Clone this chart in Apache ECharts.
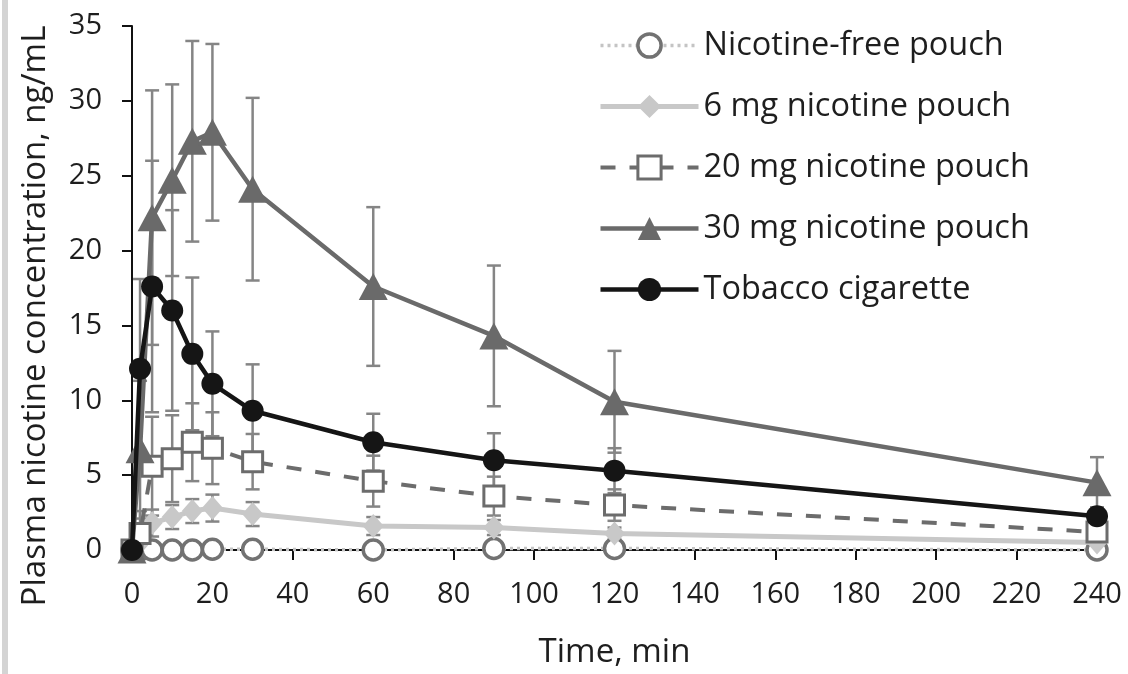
<!DOCTYPE html>
<html>
<head>
<meta charset="utf-8">
<script src="https://cdn.jsdelivr.net/npm/echarts@6/dist/echarts.min.js"></script>
<style>
html,body{margin:0;padding:0;background:#fff;}
#chart{width:1128px;height:674px;}
</style>
</head>
<body>
<div id="chart"></div>
<script>
// ---- data ----
const times = [0, 2, 5, 10, 15, 20, 30, 60, 90, 120, 240];
const xTickLabels = [0, 20, 40, 60, 80, 100, 120, 140, 160, 180, 200, 220, 240];
const yTickLabels = [0, 5, 10, 15, 20, 25, 30, 35];

const seriesNames = ['Nicotine-free pouch', '6 mg nicotine pouch', '20 mg nicotine pouch', '30 mg nicotine pouch', 'Tobacco cigarette'];

const nicFree    = [0, 0, 0, 0, 0, 0.05, 0.05, 0, 0.1, 0.1, 0];
const nicFreeErr = [0, 0, 0, 0, 0, 0.1, 0.1, 0.1, 0.1, 0.1, 0.1];
const mg6        = [0, 0.5, 1.8, 2.2, 2.6, 2.8, 2.4, 1.6, 1.5, 1.1, 0.5];
const mg6Err     = [0, 0.6, 0.9, 0.8, 0.8, 0.9, 0.8, 0.6, 0.5, 0.4, 0.3];
const mg20       = [0, 1.1, 5.6, 6.1, 7.2, 6.8, 5.9, 4.6, 3.6, 3.0, 1.2];
const mg20Err    = [0, 1.5, 3.3, 2.9, 2.6, 2.4, 1.85, 1.7, 1.3, 1.05, 0.6];
const mg30       = [0, 6.7, 22.2, 24.7, 27.3, 27.9, 24.1, 17.6, 14.3, 9.9, 4.5];
const mg30Err    = [0, 4.6, 8.5, 6.4, 6.7, 5.9, 6.1, 5.3, 4.7, 3.4, 1.7];
const tobacco    = [0, 12.1, 17.6, 16.0, 13.1, 11.1, 9.3, 7.2, 6.0, 5.3, 2.25];
const tobaccoErr = [0, 6.0, 8.4, 6.7, 5.1, 3.5, 3.1, 1.9, 1.8, 1.5, 0.6];

// ---- helpers ----
function pairs(vals) { return times.map((t, i) => [t, vals[i]]); }
function errData(vals, errs) {
  const out = [];
  times.forEach((t, i) => { if (errs[i] > 0) out.push([t, vals[i] - errs[i], vals[i] + errs[i]]); });
  return out;
}
function errRender(params, api) {
  const x = api.value(0), lo = api.value(1), hi = api.value(2);
  const top = api.coord([x, hi]);
  const bot = api.coord([x, lo]);
  const hw = 7;
  const st = { stroke: '#858585', lineWidth: 2.5 };
  return {
    type: 'group',
    children: [
      { type: 'line', shape: { x1: top[0], y1: top[1], x2: bot[0], y2: bot[1] }, style: st },
      { type: 'line', shape: { x1: top[0] - hw, y1: top[1], x2: top[0] + hw, y2: top[1] }, style: st },
      { type: 'line', shape: { x1: bot[0] - hw, y1: bot[1], x2: bot[0] + hw, y2: bot[1] }, style: st }
    ]
  };
}
function errSeries(vals, errs) {
  return {
    type: 'custom', name: 'err', renderItem: errRender, data: errData(vals, errs),
    encode: { x: 0, y: [1, 2] }, z: 1, silent: true, clip: false
  };
}

const FONT = 'Open Sans';
const chart = echarts.init(document.getElementById('chart'), null, { renderer: 'canvas' });

const styles = [
  { symbol: 'circle', symbolSize: 20,
    itemStyle: { color: '#ffffff', borderColor: '#727272', borderWidth: 3.5 },
    lineStyle: { color: '#c4c4c4', width: 3.5, type: [3, 4] } },
  { symbol: 'diamond', symbolSize: [21, 24],
    itemStyle: { color: '#c8c8c8', borderWidth: 0 },
    lineStyle: { color: '#c8c8c8', width: 5 } },
  { symbol: 'rect', symbolSize: 20,
    itemStyle: { color: '#ffffff', borderColor: '#6c6c6c', borderWidth: 3 },
    lineStyle: { color: '#6c6c6c', width: 4, type: [15, 14] } },
  { symbol: 'triangle', symbolSize: [29, 27],
    itemStyle: { color: '#6a6a6a', borderWidth: 0 },
    lineStyle: { color: '#6a6a6a', width: 4.5 } },
  { symbol: 'circle', symbolSize: 22,
    itemStyle: { color: '#151515', borderWidth: 0 },
    lineStyle: { color: '#151515', width: 4.5 } }
];
const seriesData = [nicFree, mg6, mg20, mg30, tobacco];

const option = {
  backgroundColor: '#ffffff',
  animation: false,
  graphic: [
    { type: 'rect', shape: { x: 2, y: 0, width: 6, height: 674 }, style: { fill: '#d4d4d4' }, silent: true }
  ],
  grid: { left: 132, right: 31, top: 26, bottom: 118, containLabel: false },
  legend: {
    data: seriesNames.map((n, i) => ({
      name: n,
      itemStyle: styles[i].itemStyle,
      lineStyle: styles[i].lineStyle
    })),
    orient: 'vertical',
    left: 598,
    top: 29,
    padding: 0,
    itemWidth: 98,
    itemHeight: 29,
    itemGap: 28,
    textStyle: { fontFamily: FONT, fontSize: 32.5, color: '#1e1e1e', lineHeight: 29 }
  },
  xAxis: {
    type: 'value', min: 0, max: 240, interval: 20,
    name: 'Time, min', nameLocation: 'middle', nameGap: 86,
    nameTextStyle: { fontFamily: FONT, fontSize: 33, color: '#1e1e1e' },
    axisLine: { show: true, lineStyle: { color: '#111', width: 2 } },
    axisTick: { show: true, inside: false, length: 10, lineStyle: { color: '#111', width: 2 } },
    axisLabel: { fontFamily: FONT, fontSize: 29, color: '#1e1e1e', margin: 30,
      formatter: v => xTickLabels.includes(v) ? String(v) : '' },
    splitLine: { show: false }
  },
  yAxis: {
    type: 'value', min: 0, max: 35, interval: 5,
    name: 'Plasma nicotine concentration, ng/mL', nameLocation: 'middle', nameGap: 80,
    nameTextStyle: { fontFamily: FONT, fontSize: 33, color: '#1e1e1e', padding: [0, 56, 0, 0] },
    axisLine: { show: true, lineStyle: { color: '#111', width: 2 } },
    axisTick: { show: true, inside: false, length: 10, lineStyle: { color: '#111', width: 2 } },
    axisLabel: { fontFamily: FONT, fontSize: 29, color: '#1e1e1e', margin: 30,
      formatter: v => yTickLabels.includes(v) ? String(v) : '' },
    splitLine: { show: false }
  },
  series: [
    errSeries(nicFree, nicFreeErr),
    errSeries(mg6, mg6Err),
    errSeries(mg20, mg20Err),
    errSeries(mg30, mg30Err),
    errSeries(tobacco, tobaccoErr)
  ].concat(seriesNames.map((n, i) => Object.assign({
    name: n, type: 'line', data: pairs(seriesData[i]), z: 3 + i
  }, styles[i])))
};
chart.setOption(option);
</script>
</body>
</html>
